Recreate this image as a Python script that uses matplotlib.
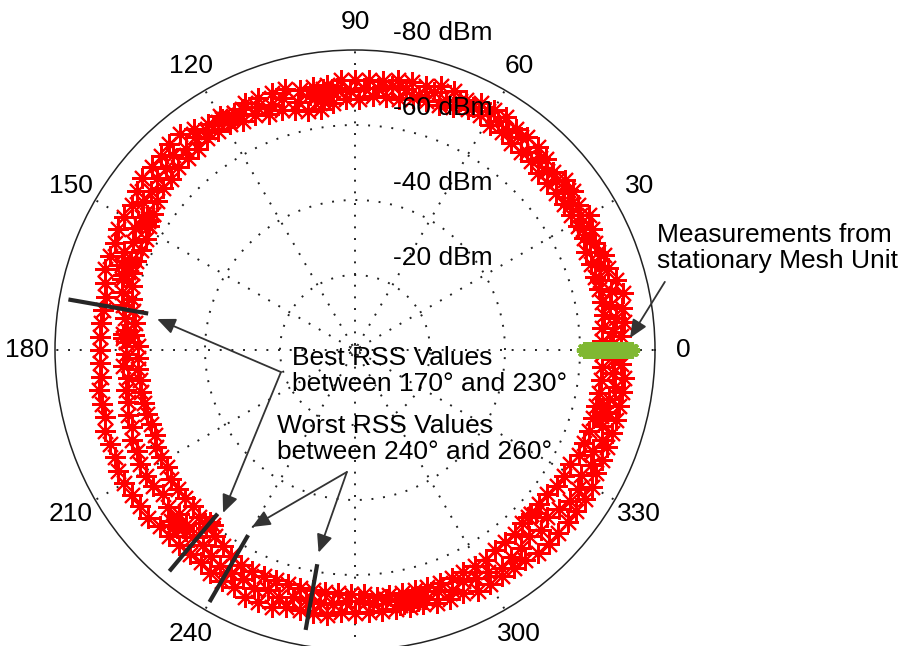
import numpy as np
import matplotlib
matplotlib.use('Agg')
import matplotlib.pyplot as plt
import matplotlib.transforms as mtransforms

plt.rcParams['font.family'] = ['Liberation Sans', 'DejaVu Sans']

# RSS sweeps of the mobile unit (dBm), three passes offset by one degree
pass1_deg = np.arange(0, 360, 3)
pass1_rss = [-71, -71, -72, -72, -73, -72, -71, -71, -70, -71,
             -72, -71, -72, -72, -71, -72, -73, -73, -73, -74,
             -74, -74, -73, -74, -74, -73, -73, -73, -72, -72,
             -72, -72, -71, -71, -71, -72, -72, -72, -72, -71,
             -72, -72, -73, -74, -74, -73, -73, -73, -72, -71,
             -71, -71, -70, -70, -70, -69, -68, -68, -68, -68,
             -68, -68, -68, -69, -69, -69, -70, -70, -70, -71,
             -71, -71, -71, -71, -70, -70, -70, -70, -70, -71,
             -71, -71, -72, -72, -72, -71, -71, -71, -71, -70,
             -70, -70, -70, -70, -70, -70, -71, -71, -71, -72,
             -72, -72, -72, -72, -73, -73, -73, -73, -73, -73,
             -73, -72, -72, -72, -72, -72, -72, -72, -72, -71]

pass2_deg = np.arange(1, 360, 3)
pass2_rss = [-68, -69, -70, -69, -70, -68, -69, -70, -69, -69,
             -70, -69, -71, -70, -70, -71, -70, -72, -71, -72,
             -73, -72, -72, -71, -72, -70, -71, -71, -70, -70,
             -69, -70, -68, -69, -68, -70, -69, -70, -71, -70,
             -71, -70, -71, -70, -71, -70, -70, -69, -69, -67,
             -67, -66, -67, -66, -65, -64, -63, -62, -61, -61,
             -61, -62, -61, -62, -62, -63, -63, -64, -64, -65,
             -65, -65, -64, -65, -64, -65, -66, -66, -67, -68,
             -68, -68, -69, -68, -69, -68, -68, -68, -68, -67,
             -67, -68, -67, -68, -68, -69, -68, -69, -68, -69,
             -69, -70, -69, -69, -68, -69, -68, -69, -70, -70,
             -69, -70, -69, -70, -69, -69, -69, -70, -69, -69]

pass3_deg = np.arange(2, 360, 3)
pass3_rss = [-66, -66, -67, -67, -67, -67, -67, -67, -68, -68,
             -68, -68, -68, -68, -68, -69, -69, -69, -70, -70,
             -71, -71, -70, -69, -69, -69, -68, -68, -68, -67,
             -67, -66, -65, -65, -66, -67, -67, -68, -68, -69,
             -69, -69, -68, -68, -68, -67, -67, -66, -65, -64,
             -63, -63, -63, -63, -62, -61, -60, -59, -59, -58,
             -58, -58, -58, -58, -58, -58, -58, -58, -59, -59,
             -59, -60, -60, -60, -60, -61, -62, -62, -63, -64,
             -65, -65, -65, -65, -65, -65, -65, -65, -65, -65,
             -65, -66, -66, -66, -66, -66, -66, -66, -66, -66,
             -66, -65, -65, -65, -64, -64, -64, -64, -65, -65,
             -65, -66, -66, -66, -66, -66, -66, -66, -66, -66]

# extra readings where the unit paused
pause_deg = [95, 96, 97, 98, 99, 116, 117, 118, 119, 120,
             146, 147, 148, 149, 150, 159, 160, 161, 162, 176, 177, 178,
             223, 224, 225, 226, 227, 229, 230, 231,
             280, 281, 282, 283, 284, 285, 286, 316, 317, 318,
             344, 345, 346, 347]
pause_rss = [-69, -68, -70, -69, -68, -70, -71, -70, -70, -71,
             -65, -66, -65, -65, -66, -64, -65, -64, -65, -62, -62, -61,
             -67, -67, -67, -66, -66, -61, -60, -60,
             -69, -69, -68, -69, -69, -68, -69, -64, -64, -65,
             -68, -68, -68, -68]

# stationary mesh unit, all at 0 deg
mesh_deg = [0] * 27
mesh_rss = [-61, -61.5, -62, -62.5, -63, -63.5, -64, -64.5, -65, -65.5, -66, -66.5,
            -67, -67.5, -68, -68.5, -69, -69.5, -70, -70.5, -71, -71.5, -72,
            -72.5, -73, -73.5, -74]

# sectors marked on the plot
sector_deg = [170, 230, 240, 260]
sector_r_in = [56, 57, 57, 58]
sector_r_out = [77.6, 77, 77.6, 75.8]

ring_values = [20, 40, 60]
ring_labels = ['-20 dBm', '-40 dBm', '-60 dBm', '-80 dBm']
r_max = 80
angle_ticks = list(range(0, 360, 30))

fs = 19
asterisk = (8, 2, 0)

fig = plt.figure(figsize=(9.05, 6.46), dpi=100)
ax = fig.add_axes([55 / 905, -4 / 646, 600 / 905, 600 / 646], projection='polar')
ax.set_ylim(0, r_max)
ax.grid(False)
ax.set_xticks([])
ax.set_yticks([])
ax.spines['polar'].set_color('#222222')
ax.spines['polar'].set_linewidth(1.1)

# dotted rings and spokes
circ = np.linspace(0, 2 * np.pi, 400)
dots = (0, (1, 5))
for rv in ring_values:
    ax.plot(circ, np.full_like(circ, rv), color='#222222', lw=1.4, ls=dots, zorder=1)
ax.plot(circ, np.full_like(circ, 1.3), color='#333333', lw=0.8, ls=(0, (3, 2)), zorder=1)
for a in angle_ticks:
    ax.plot([np.deg2rad(a)] * 2, [1.3, r_max], color='#222222', lw=1.4, ls=dots, zorder=1)
    if a != 270:  # falls below the bottom edge
        ax.text(np.deg2rad(a), 87.5, str(a), ha='center', va='center', fontsize=fs,
                clip_on=False)

ring_trans = mtransforms.offset_copy(ax.transData, fig=fig, x=38, y=17, units='dots')
for rv, lab in zip(ring_values + [r_max], ring_labels):
    ax.text(np.pi / 2, rv, lab, transform=ring_trans, ha='left', va='center',
            fontsize=fs, clip_on=False, zorder=6)

# measurements
for deg, rss in [(pass1_deg, pass1_rss), (pass2_deg, pass2_rss),
                 (pass3_deg, pass3_rss), (pause_deg, pause_rss)]:
    ax.plot(np.deg2rad(deg), -np.array(rss), ls='none', marker=asterisk, ms=15,
            mec='#ff0000', mew=1.5, zorder=3)
ax.plot(np.deg2rad(mesh_deg), -np.array(mesh_rss), ls='none', marker=asterisk, ms=11,
        mec='#80b832', mew=2.2, zorder=4)

for a, r0, r1 in zip(sector_deg, sector_r_in, sector_r_out):
    ax.plot([np.deg2rad(a)] * 2, [r0, r1], color='#262626', lw=3, solid_capstyle='butt', zorder=5)

arrow = dict(arrowstyle='-|>,head_length=0.55,head_width=0.24', color='#333333',
             lw=1.3, mutation_scale=20, shrinkA=0, shrinkB=0)


def pol(deg, r):
    return (np.deg2rad(deg), r)


ax.text(*pol(176.4, 16.8), 'Best RSS Values\nbetween 170° and 230°', ha='left', va='top',
        fontsize=fs, linespacing=1.1, zorder=6)
ax.annotate('', xy=pol(171.1, 53.4), xytext=pol(196.6, 20.6), arrowprops=arrow, zorder=6)
ax.annotate('', xy=pol(231.0, 55.9), xytext=pol(196.6, 20.6), arrowprops=arrow, zorder=6)

ax.text(*pol(219.4, 26.9), 'Worst RSS Values\nbetween 240° and 260°', ha='left', va='top',
        fontsize=fs, linespacing=1.1, zorder=6)
ax.annotate('', xy=pol(239.8, 54.6), xytext=pol(266.2, 32.6), arrowprops=arrow, zorder=6)
ax.annotate('', xy=pol(259.8, 54.9), xytext=pol(266.2, 32.6), arrowprops=arrow, zorder=6)

ax.text(*pol(22.8, 87.4), 'Measurements from\nstationary Mesh Unit', ha='left', va='top',
        fontsize=fs, linespacing=1.1, clip_on=False, zorder=6)
ax.annotate('', xy=pol(2.5, 73.4), xytext=pol(12.4, 84.6), arrowprops=arrow,
            annotation_clip=False, zorder=6)

fig.savefig('out.png', dpi=100)
